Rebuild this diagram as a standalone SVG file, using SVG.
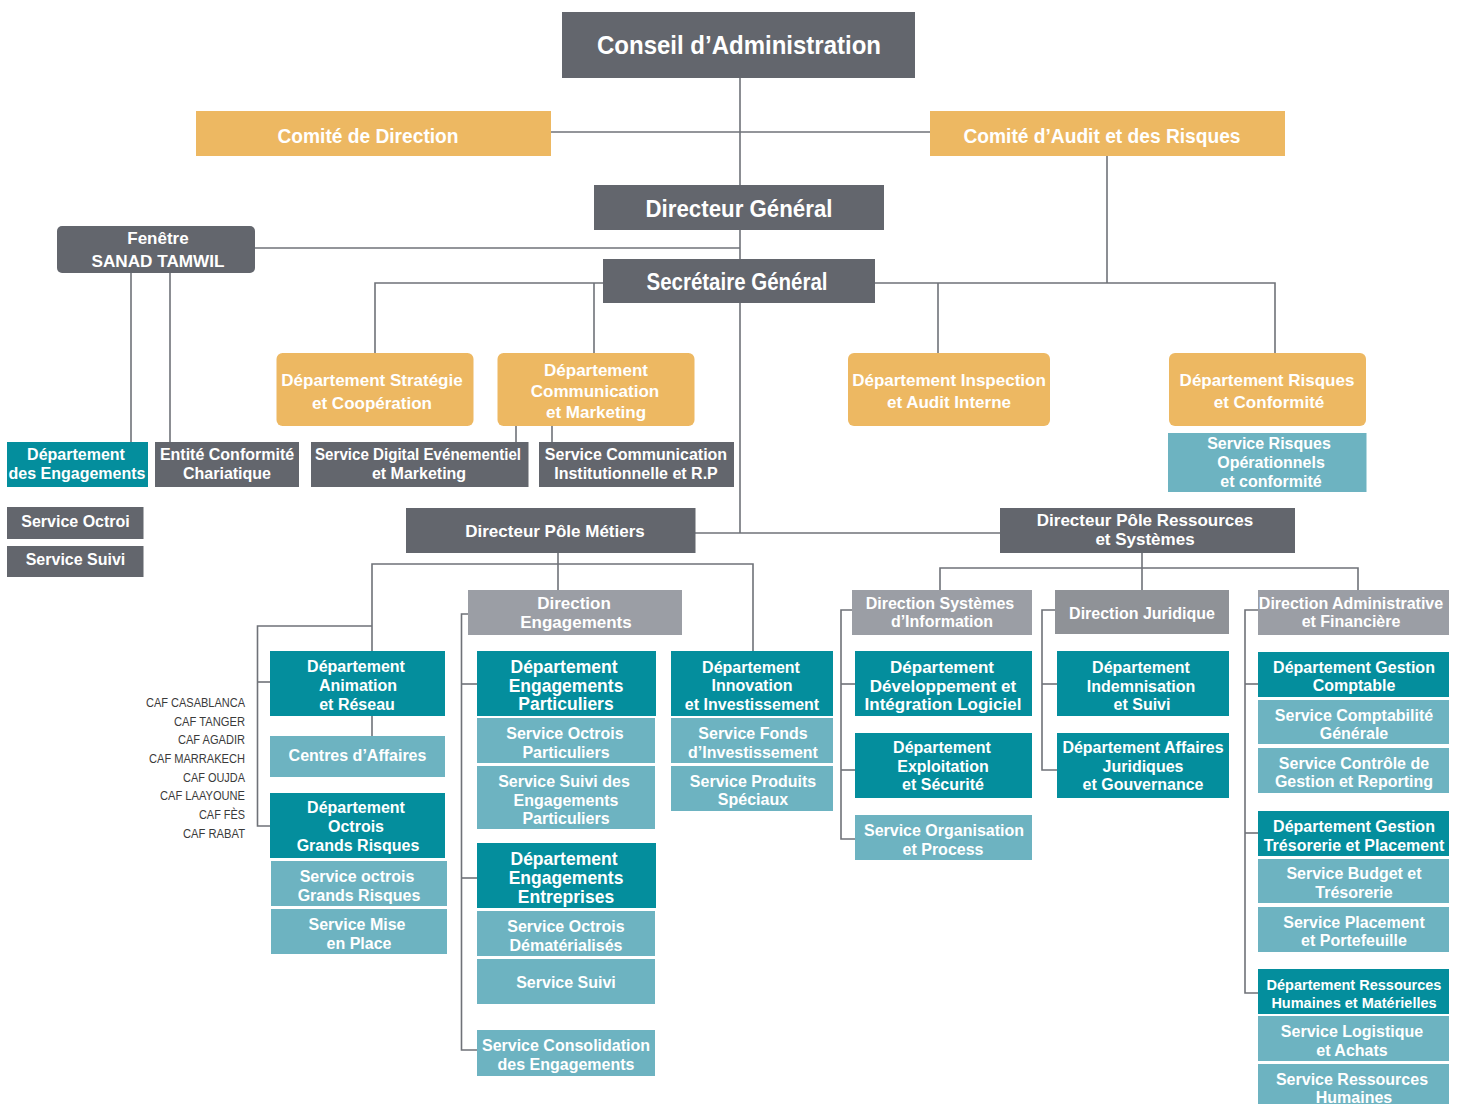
<svg xmlns="http://www.w3.org/2000/svg" width="1461" height="1104" viewBox="0 0 1461 1104">
<style>
  .dk{fill:#63666d}
  .or{fill:#edb862}
  .tl{fill:#048e9d}
  .lt{fill:#6db3c1}
  .dr{fill:#9b9ea5}
  .dj{fill:#8f9297}
  text{font-family:"Liberation Sans",Arial,sans-serif;font-weight:bold;fill:#fff;text-anchor:middle}
  .caf{font-weight:normal;fill:#3a3a3a;text-anchor:end;font-size:12.5px}
  .f16{font-size:16px}
  .f17{font-size:17px}
  .conn{fill:none;stroke:#6f7278;stroke-width:1.6}
</style>

<!-- connectors -->
<g id="connectors" class="conn">
  <path d="M740 78V533"/>
  <path d="M551 132H930"/>
  <path d="M255 248H740"/>
  <path d="M1107 156V283"/>
  <path d="M375 353V283H603"/>
  <path d="M594 283V353"/>
  <path d="M875 283H1275V353"/>
  <path d="M938 283V353"/>
  <path d="M131 273V442"/>
  <path d="M170 273V442"/>
  <path d="M516 426V442"/>
  <path d="M552 426V442"/>
  <path d="M695 533H1000"/>
  <!-- pôle métiers -->
  <path d="M558 553V590"/>
  <path d="M372 651V564H753V651"/>
  <path d="M372 716V736"/>
  <path d="M372 626H257.5V826H270"/>
  <path d="M257.5 682H270"/>
  <path d="M468 614H461.5V1050H477"/>
  <path d="M461.5 684H477"/>
  <path d="M461.5 878H477"/>
  <!-- pôle ressources -->
  <path d="M1142 553V590"/>
  <path d="M940 590V568H1358V590"/>
  <path d="M852 610H841V839H855"/>
  <path d="M841 684H855"/>
  <path d="M841 770H855"/>
  <path d="M1055 610H1042V770H1057"/>
  <path d="M1042 684H1057"/>
  <path d="M1258 610H1245V993H1258"/>
  <path d="M1245 684H1258"/>
  <path d="M1245 833H1258"/>
</g>

<!-- gouvernance -->
<g id="conseil"><rect class="dk" x="562" y="12" width="353" height="66"/>
  <text x="739" y="54" font-size="25" textLength="284" lengthAdjust="spacingAndGlyphs">Conseil d’Administration</text></g>
<g id="comite-direction"><rect class="or" x="196" y="111" width="355" height="45"/>
  <text x="368" y="143" font-size="20" textLength="181" lengthAdjust="spacingAndGlyphs">Comité de Direction</text></g>
<g id="comite-audit"><rect class="or" x="930" y="111" width="355" height="45"/>
  <text x="1102" y="143" font-size="20" textLength="277" lengthAdjust="spacingAndGlyphs">Comité d’Audit et des Risques</text></g>
<g id="directeur-general"><rect class="dk" x="594" y="185" width="290" height="45"/>
  <text x="739" y="217" font-size="23" textLength="187" lengthAdjust="spacingAndGlyphs">Directeur Général</text></g>
<g id="fenetre"><rect class="dk" x="57" y="226" width="198" height="47" rx="5"/>
  <text x="158" y="244" font-size="17">Fenêtre</text>
  <text x="158" y="267" font-size="17" textLength="133" lengthAdjust="spacingAndGlyphs">SANAD TAMWIL</text></g>
<g id="secretaire-general"><rect class="dk" x="603" y="259" width="272" height="44"/>
  <text x="737" y="290" font-size="23" textLength="181" lengthAdjust="spacingAndGlyphs">Secrétaire Général</text></g>

<!-- départements rattachés -->
<g id="dep-strategie"><rect class="or" x="276.5" y="353" width="197" height="73" rx="6"/>
  <text class="f17" x="372" y="386">Département Stratégie</text>
  <text class="f17" x="372" y="409">et Coopération</text></g>
<g id="dep-communication"><rect class="or" x="497.5" y="353" width="197" height="73" rx="6"/>
  <text class="f17" x="596" y="376">Département</text>
  <text class="f17" x="595" y="397">Communication</text>
  <text class="f17" x="596" y="418">et Marketing</text></g>
<g id="dep-inspection"><rect class="or" x="848" y="353" width="202" height="73" rx="6"/>
  <text class="f17" x="949" y="386">Département Inspection</text>
  <text class="f17" x="949" y="408">et Audit Interne</text></g>
<g id="dep-risques"><rect class="or" x="1169" y="353" width="197" height="73" rx="6"/>
  <text class="f17" x="1267" y="386">Département Risques</text>
  <text class="f17" x="1269" y="408">et Conformité</text></g>
<g id="srv-risques-op"><rect class="lt" x="1168" y="433" width="198.5" height="59"/>
  <text class="f16" x="1269" y="449">Service Risques</text>
  <text class="f16" x="1271" y="468">Opérationnels</text>
  <text class="f16" x="1271" y="487">et conformité</text></g>

<g id="dep-engagements"><rect class="tl" x="7" y="442" width="141" height="45"/>
  <text class="f16" x="76" y="460">Département</text>
  <text class="f16" x="77" y="479">des Engagements</text></g>
<g id="entite-conformite"><rect class="dk" x="155" y="442" width="144" height="45"/>
  <text class="f16" x="227" y="460">Entité Conformité</text>
  <text class="f16" x="227" y="479">Chariatique</text></g>
<g id="srv-digital"><rect class="dk" x="311" y="442" width="217.5" height="45"/>
  <text class="f16" x="418" y="460" textLength="206" lengthAdjust="spacingAndGlyphs">Service Digital Evénementiel</text>
  <text class="f16" x="419" y="479">et Marketing</text></g>
<g id="srv-communication"><rect class="dk" x="539" y="442" width="195" height="45"/>
  <text class="f16" x="636" y="460">Service Communication</text>
  <text class="f16" x="636" y="479">Institutionnelle et R.P</text></g>
<g id="srv-octroi"><rect class="dk" x="7" y="507" width="136.5" height="32"/>
  <text class="f16" x="75.5" y="527">Service Octroi</text></g>
<g id="srv-suivi"><rect class="dk" x="7" y="546" width="136.5" height="31"/>
  <text class="f16" x="75.5" y="565">Service Suivi</text></g>

<!-- pôles -->
<g id="pole-metiers"><rect class="dk" x="406" y="508" width="289.5" height="45"/>
  <text class="f17" x="555" y="537">Directeur Pôle Métiers</text></g>
<g id="pole-ressources"><rect class="dk" x="1000" y="508" width="295" height="45"/>
  <text class="f17" x="1145" y="526">Directeur Pôle Ressources</text>
  <text class="f17" x="1145" y="545">et Systèmes</text></g>

<!-- CAF -->
<g id="caf-list">
  <text class="caf" x="245" y="707" textLength="99" lengthAdjust="spacingAndGlyphs">CAF CASABLANCA</text>
  <text class="caf" x="245" y="726" textLength="71" lengthAdjust="spacingAndGlyphs">CAF TANGER</text>
  <text class="caf" x="245" y="744" textLength="67" lengthAdjust="spacingAndGlyphs">CAF AGADIR</text>
  <text class="caf" x="245" y="763" textLength="96" lengthAdjust="spacingAndGlyphs">CAF MARRAKECH</text>
  <text class="caf" x="245" y="782" textLength="62" lengthAdjust="spacingAndGlyphs">CAF OUJDA</text>
  <text class="caf" x="245" y="800" textLength="85" lengthAdjust="spacingAndGlyphs">CAF LAAYOUNE</text>
  <text class="caf" x="245" y="819" textLength="46" lengthAdjust="spacingAndGlyphs">CAF FÈS</text>
  <text class="caf" x="245" y="838" textLength="62" lengthAdjust="spacingAndGlyphs">CAF RABAT</text>
</g>

<!-- colonne animation / grands risques -->
<g id="dep-animation"><rect class="tl" x="270" y="651" width="175" height="65"/>
  <text class="f16" x="356" y="672">Département</text>
  <text class="f16" x="358" y="691">Animation</text>
  <text class="f16" x="357" y="710">et Réseau</text></g>
<g id="centres-affaires"><rect class="lt" x="270" y="736" width="175" height="41"/>
  <text class="f16" x="357.5" y="761">Centres d’Affaires</text></g>
<g id="dep-octrois-gr"><rect class="tl" x="270" y="793" width="175" height="65"/>
  <text class="f16" x="356" y="813">Département</text>
  <text class="f16" x="356" y="832">Octrois</text>
  <text class="f16" x="358" y="851">Grands Risques</text></g>
<g id="srv-octrois-gr"><rect class="lt" x="271" y="861" width="176" height="45"/>
  <text class="f16" x="357" y="882">Service octrois</text>
  <text class="f16" x="359" y="901">Grands Risques</text></g>
<g id="srv-mise-en-place"><rect class="lt" x="271" y="909" width="176" height="45"/>
  <text class="f16" x="357" y="930">Service Mise</text>
  <text class="f16" x="359" y="949">en Place</text></g>

<!-- direction engagements -->
<g id="dir-engagements"><rect class="dr" x="468" y="590" width="214" height="45"/>
  <text class="f17" x="574" y="609">Direction</text>
  <text class="f17" x="576" y="628">Engagements</text></g>
<g id="dep-eng-particuliers"><rect class="tl" x="477" y="651" width="179" height="65"/>
  <text x="564" y="673" font-size="17.5">Département</text>
  <text x="566" y="692" font-size="17.5">Engagements</text>
  <text x="566" y="710" font-size="17.5">Particuliers</text></g>
<g id="srv-octrois-part"><rect class="lt" x="477" y="718" width="178" height="45"/>
  <text class="f16" x="565" y="739">Service Octrois</text>
  <text class="f16" x="566" y="758">Particuliers</text></g>
<g id="srv-suivi-part"><rect class="lt" x="477" y="766" width="178" height="63"/>
  <text class="f16" x="564" y="787">Service Suivi des</text>
  <text class="f16" x="566" y="806">Engagements</text>
  <text class="f16" x="566" y="824">Particuliers</text></g>
<g id="dep-eng-entreprises"><rect class="tl" x="477" y="843" width="179" height="65"/>
  <text x="564" y="865" font-size="17.5">Département</text>
  <text x="566" y="884" font-size="17.5">Engagements</text>
  <text x="566" y="903" font-size="17.5">Entreprises</text></g>
<g id="srv-octrois-demat"><rect class="lt" x="477" y="911" width="178" height="45"/>
  <text class="f16" x="566" y="932">Service Octrois</text>
  <text class="f16" x="566" y="951">Dématérialisés</text></g>
<g id="srv-suivi-ent"><rect class="lt" x="477" y="959" width="178" height="45"/>
  <text class="f16" x="566" y="988">Service Suivi</text></g>
<g id="srv-consolidation"><rect class="lt" x="477" y="1030" width="178" height="46"/>
  <text class="f16" x="566" y="1051">Service Consolidation</text>
  <text class="f16" x="566" y="1070">des Engagements</text></g>

<!-- innovation -->
<g id="dep-innovation"><rect class="tl" x="671" y="651" width="162" height="65"/>
  <text class="f16" x="751" y="673">Département</text>
  <text class="f16" x="752" y="691">Innovation</text>
  <text class="f16" x="752" y="710">et Investissement</text></g>
<g id="srv-fonds"><rect class="lt" x="671" y="718" width="162" height="45"/>
  <text class="f16" x="753" y="739">Service Fonds</text>
  <text class="f16" x="753" y="758">d’Investissement</text></g>
<g id="srv-produits"><rect class="lt" x="671" y="766" width="162" height="45"/>
  <text class="f16" x="753" y="787">Service Produits</text>
  <text class="f16" x="753" y="805">Spéciaux</text></g>

<!-- systèmes d'information -->
<g id="dir-si"><rect class="dr" x="852" y="590" width="180" height="45"/>
  <text class="f16" x="940" y="609">Direction Systèmes</text>
  <text class="f16" x="942" y="627">d’Information</text></g>
<g id="dep-developpement"><rect class="tl" x="855" y="651" width="177" height="65"/>
  <text class="f17" x="942" y="673">Département</text>
  <text class="f17" x="943" y="692">Développement et</text>
  <text class="f17" x="943" y="710">Intégration Logiciel</text></g>
<g id="dep-exploitation"><rect class="tl" x="855" y="733" width="177" height="65"/>
  <text class="f16" x="942" y="753">Département</text>
  <text class="f16" x="943" y="772">Exploitation</text>
  <text class="f16" x="943" y="790">et Sécurité</text></g>
<g id="srv-organisation"><rect class="lt" x="855" y="815" width="177" height="45"/>
  <text class="f16" x="944" y="836">Service Organisation</text>
  <text class="f16" x="943" y="855">et Process</text></g>

<!-- juridique -->
<g id="dir-juridique"><rect class="dj" x="1055" y="590" width="174" height="44"/>
  <text class="f16" x="1142" y="619">Direction Juridique</text></g>
<g id="dep-indemnisation"><rect class="tl" x="1057" y="651" width="172" height="65"/>
  <text class="f16" x="1141" y="673">Département</text>
  <text class="f16" x="1141" y="692">Indemnisation</text>
  <text class="f16" x="1142" y="710">et Suivi</text></g>
<g id="dep-affaires-juridiques"><rect class="tl" x="1057" y="733" width="172" height="65"/>
  <text class="f16" x="1143" y="753">Département Affaires</text>
  <text class="f16" x="1143" y="772">Juridiques</text>
  <text class="f16" x="1143" y="790">et Gouvernance</text></g>

<!-- administrative et financière -->
<g id="dir-daf"><rect class="dr" x="1258" y="590" width="191" height="45"/>
  <text class="f16" x="1351" y="609">Direction Administrative</text>
  <text class="f16" x="1351" y="627">et Financière</text></g>
<g id="dep-comptable"><rect class="tl" x="1258" y="652" width="191" height="45"/>
  <text class="f16" x="1354" y="673">Département Gestion</text>
  <text class="f16" x="1354" y="691">Comptable</text></g>
<g id="srv-comptabilite"><rect class="lt" x="1258" y="700" width="191" height="44"/>
  <text class="f16" x="1354" y="721">Service Comptabilité</text>
  <text class="f16" x="1354" y="739">Générale</text></g>
<g id="srv-controle"><rect class="lt" x="1258" y="748" width="191" height="45"/>
  <text class="f16" x="1354" y="769">Service Contrôle de</text>
  <text class="f16" x="1354" y="787">Gestion et Reporting</text></g>
<g id="dep-tresorerie"><rect class="tl" x="1258" y="811" width="191" height="45"/>
  <text class="f16" x="1354" y="832">Département Gestion</text>
  <text class="f16" x="1354" y="851">Trésorerie et Placement</text></g>
<g id="srv-budget"><rect class="lt" x="1258" y="859" width="191" height="44"/>
  <text class="f16" x="1354" y="879">Service Budget et</text>
  <text class="f16" x="1354" y="898">Trésorerie</text></g>
<g id="srv-placement"><rect class="lt" x="1258" y="907" width="191" height="45"/>
  <text class="f16" x="1354" y="928">Service Placement</text>
  <text class="f16" x="1354" y="946">et Portefeuille</text></g>
<g id="dep-rh"><rect class="tl" x="1258" y="969" width="191" height="45"/>
  <text x="1354" y="990" font-size="14.5">Département Ressources</text>
  <text x="1354" y="1008" font-size="14.5">Humaines et Matérielles</text></g>
<g id="srv-logistique"><rect class="lt" x="1258" y="1016" width="191" height="45"/>
  <text class="f16" x="1352" y="1037">Service Logistique</text>
  <text class="f16" x="1352" y="1056">et Achats</text></g>
<g id="srv-rh"><rect class="lt" x="1258" y="1064" width="191" height="46"/>
  <text class="f16" x="1352" y="1085">Service Ressources</text>
  <text class="f16" x="1354" y="1103">Humaines</text></g>
</svg>
